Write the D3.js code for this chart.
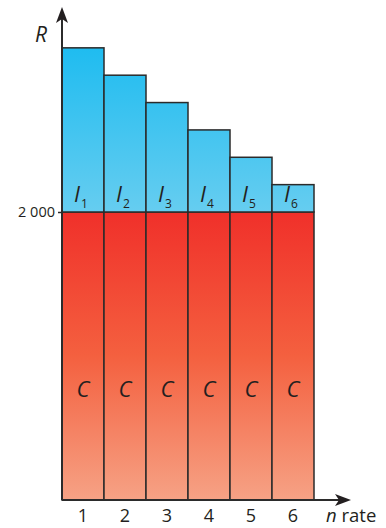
<!DOCTYPE html>
<html><head><meta charset="utf-8">
<script src="https://cdn.jsdelivr.net/npm/d3@7"></script>
<style>body{margin:0;background:#fff}svg{display:block}text{font-family:"Open Sans",sans-serif;fill:#231f20}</style>
</head><body>
<svg id="c" width="386" height="528"></svg>
<script>
const categories = [1, 2, 3, 4, 5, 6];
const costValues = [2000, 2000, 2000, 2000, 2000, 2000];
const incomeValues = [1140, 950, 760, 570, 380, 190];
const incomeLabels = ["1", "2", "3", "4", "5", "6"];
const yTickValues = [2000];
const yTickLabels = ["2 000"];

const FONT = "'Open Sans', sans-serif";
const svg = d3.select("#c");
const x0 = 62, yBase = 500;
const x = d3.scaleBand().domain(categories).range([x0, x0 + 42 * 6]).padding(0);
const y = d3.scaleLinear().domain([0, 2000]).range([yBase, 212]);

const defs = svg.append("defs");
const gr = defs.append("linearGradient").attr("id", "red").attr("x1", 0).attr("y1", 0).attr("x2", 0).attr("y2", 1);
gr.append("stop").attr("offset", 0).attr("stop-color", "#f0302a");
gr.append("stop").attr("offset", 0.5).attr("stop-color", "#f4603f");
gr.append("stop").attr("offset", 1).attr("stop-color", "#f6a285");
const gb = defs.append("linearGradient").attr("id", "blue").attr("gradientUnits", "userSpaceOnUse")
  .attr("x1", 0).attr("y1", y(costValues[0] + incomeValues[0])).attr("x2", 0).attr("y2", y(2000));
gb.append("stop").attr("offset", 0).attr("stop-color", "#1fbcf0");
gb.append("stop").attr("offset", 1).attr("stop-color", "#66cdf0");

svg.selectAll("rect.cost").data(categories).join("rect").attr("class", "cost")
  .attr("x", d => x(d)).attr("width", x.bandwidth())
  .attr("y", (d, i) => y(costValues[i])).attr("height", (d, i) => yBase - y(costValues[i]))
  .attr("fill", "url(#red)").attr("stroke", "#2b2b2b").attr("stroke-width", 1.5);
svg.selectAll("rect.inc").data(categories).join("rect").attr("class", "inc")
  .attr("x", d => x(d)).attr("width", x.bandwidth())
  .attr("y", (d, i) => y(costValues[i] + incomeValues[i]))
  .attr("height", (d, i) => y(costValues[i]) - y(costValues[i] + incomeValues[i]))
  .attr("fill", "url(#blue)").attr("stroke", "#2b2b2b").attr("stroke-width", 1.5);

categories.forEach((d, i) => {
  const t = svg.append("text").attr("x", x(d) + x.bandwidth() / 2 - 2).attr("y", y(costValues[i]) - 10)
    .attr("text-anchor", "middle").attr("font-size", 22).attr("font-style", "italic");
  t.append("tspan").text("I");
  t.append("tspan").attr("font-size", 12).attr("font-style", "normal").attr("dy", 6).attr("dx", 1).text(incomeLabels[i]);
});
svg.selectAll("text.c").data(categories).join("text").attr("class", "c")
  .attr("x", d => x(d) + x.bandwidth() / 2).attr("y", 397)
  .attr("text-anchor", "middle").attr("font-size", 22).attr("font-style", "italic").text("C");

const yAxis = d3.axisLeft(y).tickValues(yTickValues).tickFormat((d, i) => yTickLabels[i]).tickSize(4).tickPadding(3);
const ga = svg.append("g").attr("transform", `translate(${x0},0)`).call(yAxis);
ga.select(".domain").remove();
ga.selectAll("line").attr("stroke", "#2b2b2b").attr("stroke-width", 1.5);
ga.selectAll("text").attr("font-size", 14.5).attr("fill", "#231f20").style("font-family", FONT);

const xAxis = d3.axisBottom(x).tickSize(0).tickPadding(9);
const gx = svg.append("g").attr("transform", `translate(0,${yBase})`).call(xAxis);
gx.select(".domain").remove();
gx.selectAll("text").attr("font-size", 18).attr("fill", "#231f20").style("font-family", FONT);

svg.append("line").attr("x1", x0).attr("x2", x0).attr("y1", yBase).attr("y2", 16).attr("stroke", "#2b2b2b").attr("stroke-width", 2);
svg.append("line").attr("x1", x0).attr("x2", 344).attr("y1", yBase).attr("y2", yBase).attr("stroke", "#2b2b2b").attr("stroke-width", 2);
svg.append("path").attr("d", `M${x0},7 L${x0 + 6},23 L${x0},19 L${x0 - 6},23 Z`).attr("fill", "#231f20");
svg.append("path").attr("d", `M351,${yBase} L335,${yBase - 6} L339,${yBase} L335,${yBase + 6} Z`).attr("fill", "#231f20");

svg.append("text").attr("x", 35).attr("y", 42).attr("font-size", 21).attr("font-style", "italic").text("R");
const nr = svg.append("text").attr("x", 326).attr("y", 522).attr("font-size", 18.5);
nr.append("tspan").attr("font-style", "italic").text("n");
nr.append("tspan").text(" rate");
</script>
</body></html>
